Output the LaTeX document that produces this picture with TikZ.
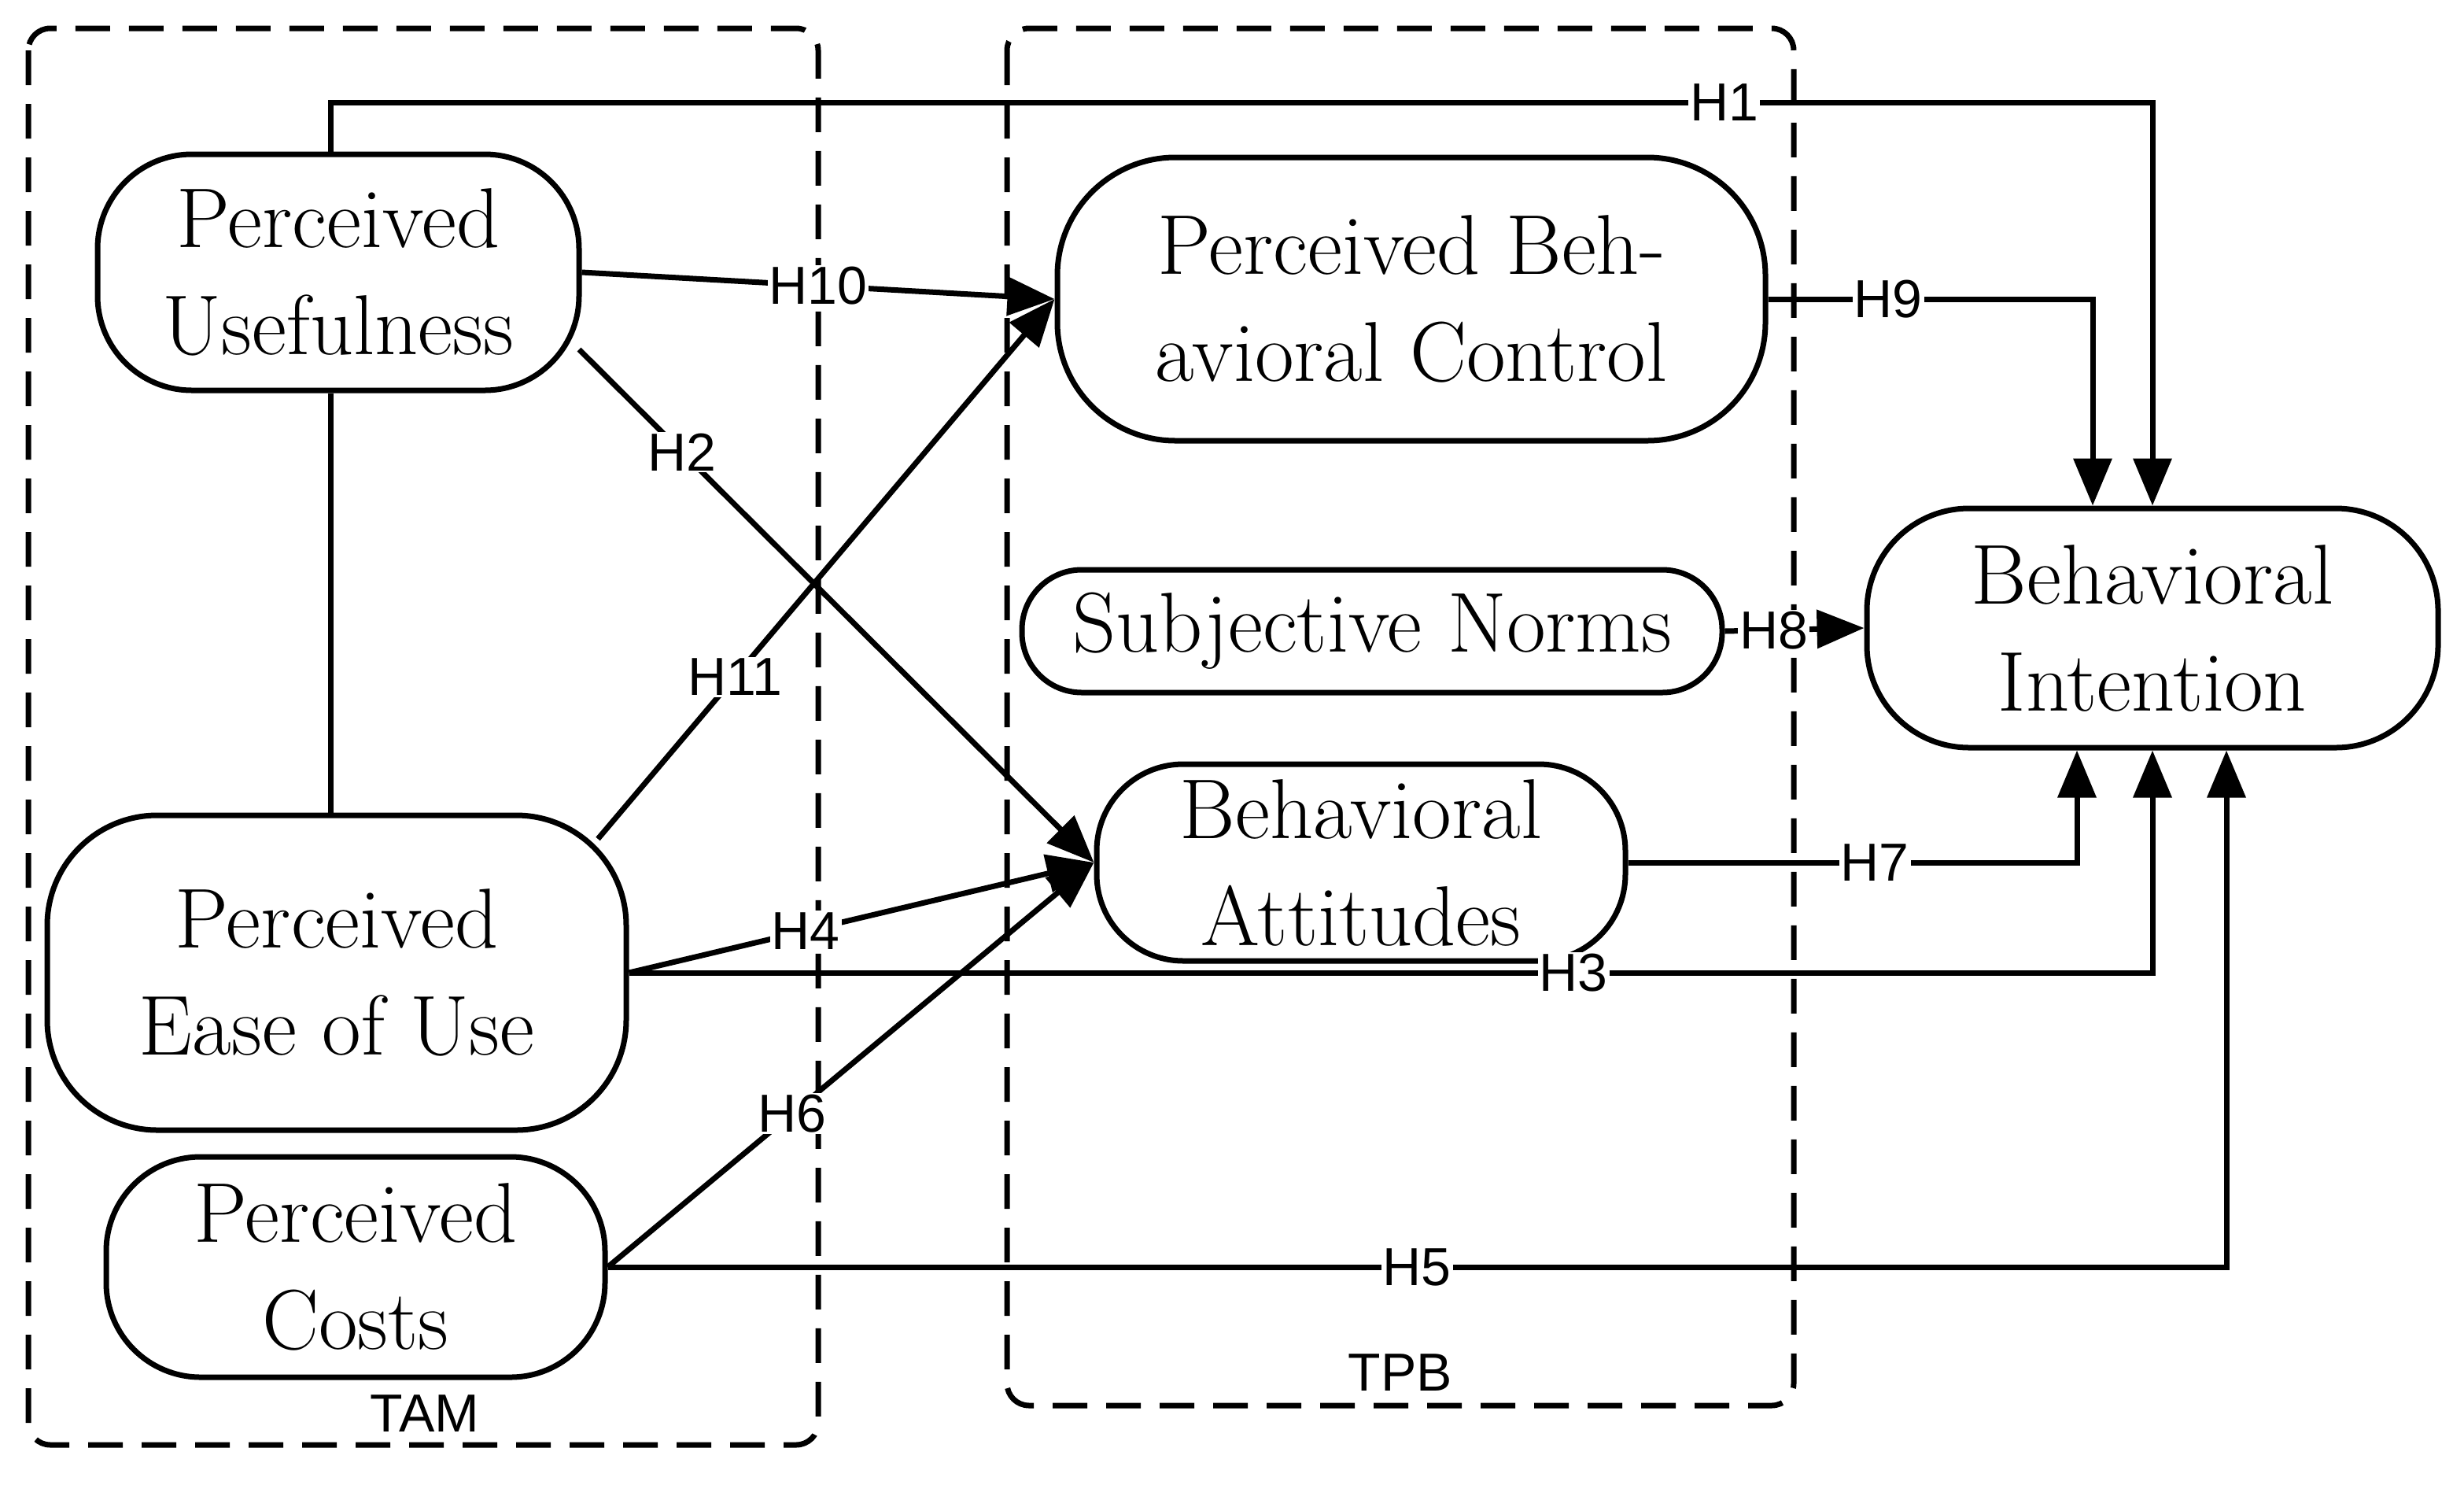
\documentclass[tikz,border=0pt]{standalone}
\usepackage{fontspec}
\newfontfamily\lab{Liberation Sans}
\usetikzlibrary{arrows.meta}
\begin{document}
\begin{tikzpicture}[x=1pt,y=-1pt,line width=3.5pt,
  box/.style={draw,rounded corners=60pt,align=center,inner sep=0pt,font=\fontsize{54}{68}\selectfont},
  lb/.style={fill=white,inner sep=1pt,font=\lab\fontsize{34}{34}\selectfont},
  arr/.style={-{Triangle[length=30pt,width=24pt]}},
  dsh/.style={dashed,dash pattern=on 22pt off 12pt,rounded corners=14pt}]
\useasboundingbox (0,0) rectangle (1566,943);
\draw[dsh] (18,18) rectangle (520,918);
\draw[dsh] (640,18) rectangle (1140,893);
\node[font=\lab\fontsize{34}{34}\selectfont] (tam) at (270,898) {TAM};
\node[font=\lab\fontsize{34}{34}\selectfont] (tpb) at (890,872) {TPB};
\node[box,minimum width=306pt,minimum height=150pt] (pu) at (215,173) {Perceived\\Usefulness};
\node[box,minimum width=368pt,minimum height=200pt,rounded corners=70pt] (peu) at (214,618) {Perceived\\Ease of Use};
\node[box,minimum width=317pt,minimum height=140pt] (pc) at (226,805) {Perceived\\Costs};
\node[box,minimum width=450pt,minimum height=180pt,rounded corners=75pt] (pbc) at (897,190) {Perceived Beh-\\avioral Control};
\node[box,minimum width=445pt,minimum height=78pt,rounded corners=38pt] (sn) at (872,401) {Subjective Norms};
\node[box,minimum width=336pt,minimum height=125pt,rounded corners=55pt] (ba) at (865,548) {Behavioral\\Attitudes};
\node[box,minimum width=363pt,minimum height=152pt,rounded corners=65pt] (bi) at (1368,399) {Behavioral\\Intention};
% PU - PEU
\draw (pu.south-|210,0) -- (peu.north-|210,0);
% H1
\coordinate (c1) at (210,65); \coordinate (c2) at (1368,65);
\draw[arr] (pu.north-|210,0) -- (c1) -- node[lb,pos=0.765]{H1} (c2) -- (bi.north-|1368,0);
% H9
\coordinate (c9) at (1330,190);
\draw[arr] (pbc.east) -- node[lb,pos=0.37]{H9} (c9) -- (bi.north-|1330,0);
% H10
\draw[arr] (pu.east) -- node[lb]{H10} (pbc.west);
% H2
\coordinate (s2) at (368,222);
\draw[arr] (s2) -- node[lb,pos=0.2]{H2} (ba.west);
% H11
\coordinate (s11) at (380,533);
\draw[arr] (s11) -- node[lb,pos=0.3]{H11} (pbc.west);
% H4
\draw[arr] (peu.east) -- node[lb,pos=0.38]{H4} (ba.west);
% H6
\draw[arr] (pc.east) -- node[lb,pos=0.38]{H6} (ba.west);
% H3
\coordinate (c3) at (1368,618);
\draw[arr] (peu.east) -- node[lb,pos=0.62]{H3} (c3) -- (bi.south-|1368,0);
% H5
\coordinate (c5) at (1415,805);
\draw[arr] (pc.east) -- node[lb,pos=0.5]{H5} (c5) -- (bi.south-|1415,0);
% H7
\coordinate (c7) at (1320,548);
\draw[arr] (ba.east) -- node[lb,pos=0.55]{H7} (c7) -- (bi.south-|1320,0);
% H8
\draw[arr] (sn.east) -- node[lb,pos=0.35]{H8} (bi.west);
\end{tikzpicture}
\end{document}
